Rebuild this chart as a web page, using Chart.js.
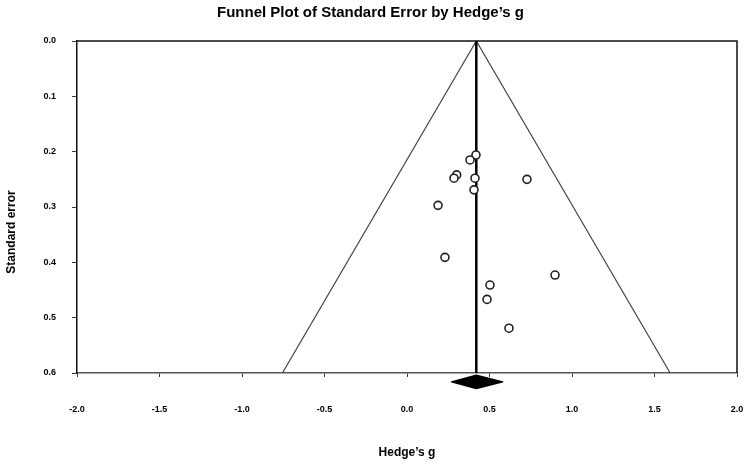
<!DOCTYPE html>
<html>
<head>
<meta charset="utf-8">
<script src="https://cdn.jsdelivr.net/npm/chart.js@4.4.1/dist/chart.umd.min.js"></script>
<style>
  body { margin: 0; background: #fff; }
</style>
</head>
<body>
<canvas id="funnel" width="749" height="464"></canvas>
<script>
// study effect sizes (Hedge's g) and their standard errors
var hedgesG = [0.418, 0.382, 0.301, 0.285, 0.412, 0.406, 0.727, 0.188, 0.230, 0.897, 0.503, 0.485, 0.618];
var stdErr  = [0.206, 0.215, 0.242, 0.248, 0.248, 0.269, 0.250, 0.297, 0.391, 0.423, 0.441, 0.467, 0.519];

// overall effect (vertical line) and the 95% funnel
var meanG = 0.42;
var meanLineSE = [0, 0.6];
var funnelG  = [-0.755, 0.42, 1.595];
var funnelSE = [0.6, 0.0, 0.6];

// summary diamond under the axis
var diamondG  = [0.27, 0.42, 0.58, 0.42];
var diamondSE = [0.616, 0.604, 0.616, 0.628];

var xTicks = [-2.0, -1.5, -1.0, -0.5, 0.0, 0.5, 1.0, 1.5, 2.0];
var yTicks = [0.0, 0.1, 0.2, 0.3, 0.4, 0.5, 0.6];

var toPoints = function (xs, ys) {
  return xs.map(function (x, i) { return { x: x, y: ys[i] }; });
};

var frame = {
  id: 'frame',
  afterDatasetsDraw: function (chart) {
    var c = chart.ctx, a = chart.chartArea;
    var xs = chart.scales.x, ys = chart.scales.y;
    c.save();
    // top + right border of the box
    c.strokeStyle = '#111';
    c.lineWidth = 1.5;
    c.beginPath();
    c.moveTo(a.left, a.top);
    c.lineTo(a.right, a.top);
    c.lineTo(a.right, a.bottom);
    c.stroke();
    // summary diamond
    c.fillStyle = '#000';
    c.strokeStyle = '#000';
    c.lineWidth = 1.5;
    c.lineJoin = 'round';
    c.beginPath();
    diamondG.forEach(function (g, i) {
      var px = xs.getPixelForValue(g), py = ys.getPixelForValue(diamondSE[i]);
      if (i === 0) c.moveTo(px, py); else c.lineTo(px, py);
    });
    c.closePath();
    c.fill();
    c.stroke();
    // y axis title sits a bit below the middle in the original
    c.translate(12, a.top + (a.bottom - a.top) / 2 + 25);
    c.rotate(-Math.PI / 2);
    c.fillStyle = '#000';
    c.font = 'bold 12px "Liberation Sans", Arial, sans-serif';
    c.textAlign = 'center';
    c.textBaseline = 'middle';
    c.fillText('Standard error', 0, 0);
    c.restore();
  }
};

var tickFont = { family: 'Liberation Sans, Arial, sans-serif', size: 9, weight: 'bold' };

var ctx = document.getElementById('funnel').getContext('2d');
var chart = new Chart(ctx, {
  type: 'scatter',
  data: {
    datasets: [
      {
        label: 'Studies',
        data: toPoints(hedgesG, stdErr),
        pointRadius: 4,
        pointBorderWidth: 1.6,
        borderColor: '#222',
        backgroundColor: '#fff'
      },
      {
        type: 'line',
        label: 'Mean',
        data: toPoints([meanG, meanG], meanLineSE),
        borderColor: '#000',
        borderWidth: 2.5,
        pointRadius: 0
      },
      {
        type: 'line',
        label: 'Funnel',
        data: toPoints(funnelG, funnelSE),
        borderColor: '#444',
        borderWidth: 1.2,
        pointRadius: 0,
        tension: 0
      }
    ]
  },
  options: {
    responsive: false,
    animation: false,
    layout: { padding: { left: 4, right: 12 } },
    plugins: {
      legend: { display: false },
      tooltip: { enabled: false },
      title: {
        display: true,
        text: 'Funnel Plot of Standard Error by Hedge\u2019s g',
        color: '#000',
        font: { family: 'Liberation Sans, Arial, sans-serif', size: 15, weight: 'bold' },
        padding: { top: 4, bottom: 19 }
      }
    },
    scales: {
      x: {
        type: 'linear',
        min: -2,
        max: 2,
        afterBuildTicks: function (s) { s.ticks = xTicks.map(function (v) { return { value: v }; }); },
        afterFit: function (s) { s.height = 91; s.paddingLeft = 0; s.paddingRight = 0; },
        ticks: {
          color: '#000',
          font: tickFont,
          padding: 27,
          callback: function (v) { return Number(v).toFixed(1); }
        },
        grid: { drawOnChartArea: false, drawTicks: true, tickLength: 4, color: '#333' },
        border: { display: true, color: '#555', width: 1.5 },
        title: {
          display: true,
          text: 'Hedge\u2019s g',
          color: '#000',
          font: { family: 'Liberation Sans, Arial, sans-serif', size: 12, weight: 'bold' },
          padding: { top: 28, bottom: 4 }
        }
      },
      y: {
        type: 'linear',
        reverse: true,
        min: 0,
        max: 0.6,
        afterBuildTicks: function (s) { s.ticks = yTicks.map(function (v) { return { value: v }; }); },
        afterFit: function (s) { s.width = 73; },
        ticks: {
          color: '#000',
          font: tickFont,
          padding: 16,
          callback: function (v) { return Number(v).toFixed(1); }
        },
        grid: { drawOnChartArea: false, drawTicks: true, tickLength: 5, color: '#333' },
        border: { display: true, color: '#111', width: 1.5 },
        title: { display: false }
      }
    }
  },
  plugins: [frame]
});
</script>
</body>
</html>
